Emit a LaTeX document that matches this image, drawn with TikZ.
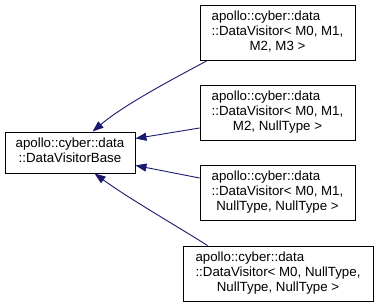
\documentclass[tikz,border=0pt]{standalone}
\usepackage{fontspec}
\setmainfont{Liberation Sans}
\usetikzlibrary{arrows.meta,calc}

\definecolor{edgeblue}{RGB}{25,25,112}

% three-line class label: two left lines, last one centred
\newcommand{\dvlabel}[3]{\begin{tabular}{@{}l@{}}#1\\#2\\\multicolumn{1}{@{}c@{}}{#3}\end{tabular}}

\begin{document}
\begin{tikzpicture}[x=1pt,y=-1pt,
    cls/.style={draw, line width=0.9pt, inner sep=0pt, minimum width=155pt,
      minimum height=55pt, font=\fontsize{13.3}{15}\selectfont},
    inh/.style={draw=edgeblue, line width=0.9pt, -{Triangle[length=11pt,width=8pt]}}]
    \useasboundingbox (0,0) rectangle (377,307);

    \node[cls, minimum width=130pt, minimum height=41pt] (base) at (70,152.5)
      {\begin{tabular}{@{}c@{}}apollo::cyber::data\\::DataVisitorBase\end{tabular}};

    \node[cls] (d1) at (277.5,33) {\dvlabel{apollo::cyber::data}{::DataVisitor< M0, M1,}{M2, M3 >}};
    \node[cls] (d2) at (277.5,112.5) {\dvlabel{apollo::cyber::data}{::DataVisitor< M0, M1,}{M2, NullType >}};
    \node[cls] (d3) at (277.5,192.5) {\dvlabel{apollo::cyber::data}{::DataVisitor< M0, M1,}{NullType, NullType >}};
    \node[cls, minimum width=190pt] (d4) at (278,273.5) {\dvlabel{apollo::cyber::data}{::DataVisitor< M0, NullType,}{NullType, NullType >}};

    \draw[inh] ($(d1.south west)+(7,0)$) .. controls (175,78) and (125,104) .. ($(base.north west)+(88,0)$);
    \draw[inh] ($(d2.west)+(0,15.5)$) -- ($(base.north east)+(0,7)$);
    \draw[inh] ($(d3.west)+(0,-14.5)$) -- ($(base.south east)+(0,-8)$);
    \draw[inh] ($(d4.north west)+(25,0)$) .. controls (180,228) and (128,198) .. ($(base.south west)+(90,0)$);
  \end{tikzpicture}
\end{document}
